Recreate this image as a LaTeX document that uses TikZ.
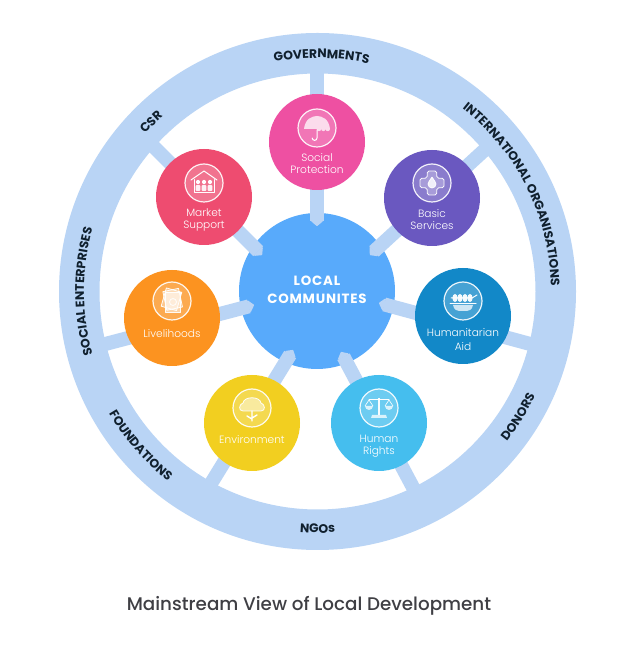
\documentclass[tikz,border=0pt]{standalone}
\usepackage{fontspec}
\usetikzlibrary{arrows.meta,decorations.text}
\setmainfont{Poppins}
\newfontfamily\ringfont{Poppins}[UprightFont=* Bold]
\newfontfamily\hubfont{Poppins}[UprightFont=* Bold,LetterSpace=6]
\newfontfamily\bubfont{Poppins}[UprightFont=* Light]
\newfontfamily\titlefont{Poppins}[UprightFont=* Medium]
\definecolor{ringblue}{HTML}{B9D4F5}
\definecolor{hubblue}{HTML}{58AAFB}
\definecolor{cpink}{HTML}{EE50A2}
\definecolor{cpurple}{HTML}{6A58C0}
\definecolor{cocean}{HTML}{1288C8}
\definecolor{csky}{HTML}{45BEEE}
\definecolor{cyellow}{HTML}{F2CF20}
\definecolor{corange}{HTML}{FC9320}
\definecolor{cred}{HTML}{EE4C70}
\definecolor{titlegrey}{HTML}{3F3F44}
\definecolor{bandink}{HTML}{10202E}
\tikzset{
  spoke/.style={ringblue,line width=14pt,-{Triangle[length=6pt,width=14pt,round]}},
  bubble/.style={circle,minimum size=96pt,inner sep=0pt,fill=#1},
  hub/.style={circle,minimum size=156pt,inner sep=0pt,fill=hubblue,text=white,align=center,
    font=\hubfont\fontsize{13.4}{18}\selectfont},
  caption/.style={text=white,align=center,inner sep=0pt,
    font=\bubfont\fontsize{10.6}{12}\selectfont},
  glyph/.style={white,fill=white,fill opacity=.75,draw opacity=.95,line width=.8pt,line join=round},
  glyphline/.style={white,line width=1pt,line cap=round,line join=round},
  ringtext/.style={decorate,decoration={text along path,text align=center,
    text={|\ringfont\fontsize{12.4}{13}\selectfont\color{bandink}|#1}}}
}
% Framed emblem of a bubble: pale disc with a white outline
\newcommand{\emblem}[2]{%
  \begin{scope}[shift={(#1)}]
    \fill[white,opacity=.22] (0,0) circle (19pt);
    \draw[white,line width=1.2pt,opacity=.9] (0,0) circle (19pt);
    #2
  \end{scope}}
\begin{document}
\begin{tikzpicture}[x=1pt,y=1pt]
\useasboundingbox (0,0) rectangle (640,648);
\fill[white] (0,0) rectangle (640,648);
\coordinate (O) at (317.5,356.5);

% Outer band
\fill[ringblue,even odd rule] (O) circle (258.5pt) (O) circle (218pt);

% Hub
\node[hub] (hubnode) at (317,357) {};
\node[text=white,align=center,inner sep=0pt,font=\hubfont\fontsize{13.4}{18}\selectfont] (hublabel) at (317,358.5) {LOCAL\\COMMUNITES};

% Spoke end points
\coordinate (tipA) at (317,422);   \coordinate (railA) at (317,588);
\coordinate (tipB) at (370,393);   \coordinate (railB) at (490,503);
\coordinate (tipC) at (379,345);   \coordinate (railC) at (545,300);
\coordinate (tipD) at (341,296);   \coordinate (railD) at (425,138);
\coordinate (tipE) at (293,298);   \coordinate (railE) at (207,158);
\coordinate (tipF) at (254,343);   \coordinate (railF) at (90,300);
\coordinate (tipG) at (262,393);   \coordinate (railG) at (140,515);
\foreach \s in {A,B,C,D,E,F,G}{\draw[spoke] (rail\s) -- (tip\s);}

% Bubbles
\node[bubble=cpink]   (social)  at (317,506) {};
\node[bubble=cpurple] (basic)   at (432,450) {};
\node[bubble=cocean]  (aid)     at (463,332) {};
\node[bubble=csky]    (rights)  at (379,225) {};
\node[bubble=cyellow] (environ) at (252,225) {};
\node[bubble=corange] (liveli)  at (172,330) {};
\node[bubble=cred]    (market)  at (204,451) {};

% Bubble captions
\node[caption] (capA) at (317,484) {Social\\Protection};
\node[caption] (capB) at (432,428) {Basic\\Services};
\node[caption] (capC) at (463,308.5) {Humanitarian\\[2pt]Aid};
\node[caption] (capD) at (379,202) {Human\\Rights};
\node[caption] (capE) at (252,208) {Environment};
\node[caption] (capF) at (172,314) {Livelihoods};
\node[caption] (capG) at (204,428) {Market\\Support};

% Umbrella
\emblem{317,520}{
  \path[glyph] (-13,-1) .. controls (-12,9) and (-5,12) .. (0,12) .. controls (5,12) and (12,9) .. (13,-1)
    arc[start angle=0,end angle=-180,radius=2.2] arc[start angle=0,end angle=-180,radius=2.2]
    arc[start angle=0,end angle=-180,radius=2.2] -- cycle;
  \draw[glyphline] (0,-2) -- (0,-10) arc[start angle=0,end angle=-180,radius=2.4];
}
% Cross with a drop
\emblem{432,465}{
  \draw[glyph,fill opacity=.25,rounded corners=1.5pt] (-4.5,12) -- (4.5,12) -- (5,5) -- (12,4.5) -- (12,-4.5)
    -- (5,-5) -- (4.5,-12) -- (-4.5,-12) -- (-5,-5) -- (-12,-4.5) -- (-12,4.5) -- (-5,5) -- cycle;
  \draw[glyph,fill opacity=.85] (0,6) .. controls (2,2.5) and (4,1) .. (4,-1)
    arc[start angle=0,end angle=-180,radius=4] .. controls (-4,1) and (-2,2.5) .. (0,6);
}
% Pan with a skewer
\emblem{463,347}{
  \draw[glyphline] (-13,-3) -- (13,-3);
  \path[glyph] (-10,-4) -- (10,-4) .. controls (9,-9) and (6,-10) .. (4,-10) -- (-4,-10) .. controls (-6,-10) and (-9,-9) .. (-10,-4);
  \foreach \px in {-8,-3,2,7}{\path[glyph,fill opacity=.95] (\px,3) ellipse (2.6pt and 4pt);}
  \draw[glyphline] (-12,3) -- (9,3) -- (14,6);
}
% Scales
\emblem{379,240}{
  \draw[glyphline] (-10,8) -- (10,8);
  \draw[glyph,line width=1.8pt] (0,10) -- (0,-7);
  \path[glyph] (-7,-7) -- (7,-7) -- (8,-10) -- (-8,-10) -- cycle;
  \path[glyph] (-14,2) arc[start angle=180,end angle=360,radius=4] -- cycle;
  \path[glyph] (6,2) arc[start angle=180,end angle=360,radius=4] -- cycle;
  \draw[glyphline,line width=.6pt] (-14,2) -- (-10,8) -- (-6,2) (6,2) -- (10,8) -- (14,2);
}
% Tree
\emblem{252,240}{
  \draw[glyph,fill opacity=.45] (-9,-3) .. controls (-14,-3) and (-13,4) .. (-9,5) .. controls (-8,12) and (8,12) .. (9,5)
    .. controls (13,4) and (14,-3) .. (9,-3) -- cycle;
  \draw[glyphline,line width=1.4pt] (0,-3) -- (0,-13) (-5,-8) -- (0,-11) (5,-7) -- (0,-10);
}
% Fanned cards
\emblem{172,347}{
  \draw[glyph,fill opacity=.35,rotate=-16] (-9,-8) rectangle (7,11);
  \draw[glyph,fill opacity=.35,rotate=12] (-7,-8) rectangle (9,11);
  \draw[glyph,fill opacity=.5] (-7,-11) rectangle (8,9);
  \draw[glyph,fill opacity=0] (1,-1) circle (3.5pt);
}
% House with three figures
\emblem{204,465}{
  \draw[glyphline] (-13,3) -- (0,12) -- (13,3);
  \draw[glyphline,line width=.8pt] (-10,3.5) -- (-10,-9) -- (10,-9) -- (10,3.5);
  \foreach \px in {-6,0,6}{
    \path[glyph,fill opacity=1] (\px,1) circle (2.1pt);
    \path[glyph,fill opacity=.9,rounded corners=1pt] (\px-2.4,-8) rectangle (\px+2.4,-2);
  }
}

% Band labels
\path[ringtext={GOVERNMENTS}] (O) ++(129:233.5) arc[start angle=129,end angle=49,radius=233.5];
\path[ringtext={CSR}] (O) ++(164.5:233.5) arc[start angle=164.5,end angle=104.5,radius=233.5];
\path[ringtext={INTERNATIONAL ORGANISATIONS}] (O) ++(74.5:233.5) arc[start angle=74.5,end angle=-21.5,radius=233.5];
\path[ringtext={SOCIAL ENTERPRISES}] (O) ++(215:233.5) arc[start angle=215,end angle=145,radius=233.5];
\path[ringtext={DONORS}] (O) ++(-62:241.5) arc[start angle=-62,end angle=-2,radius=241.5];
\path[ringtext={NGOs}] (O) ++(-120:241.5) arc[start angle=-120,end angle=-60,radius=241.5];
\path[ringtext={FOUNDATIONS}] (O) ++(-174:241.5) arc[start angle=-174,end angle=-104,radius=241.5];

% Title
\node[text=titlegrey,inner sep=0pt,font=\titlefont\fontsize{18.3}{20}\selectfont] (headline) at (309,42.5) {Mainstream View of Local Development};
\end{tikzpicture}
\end{document}
